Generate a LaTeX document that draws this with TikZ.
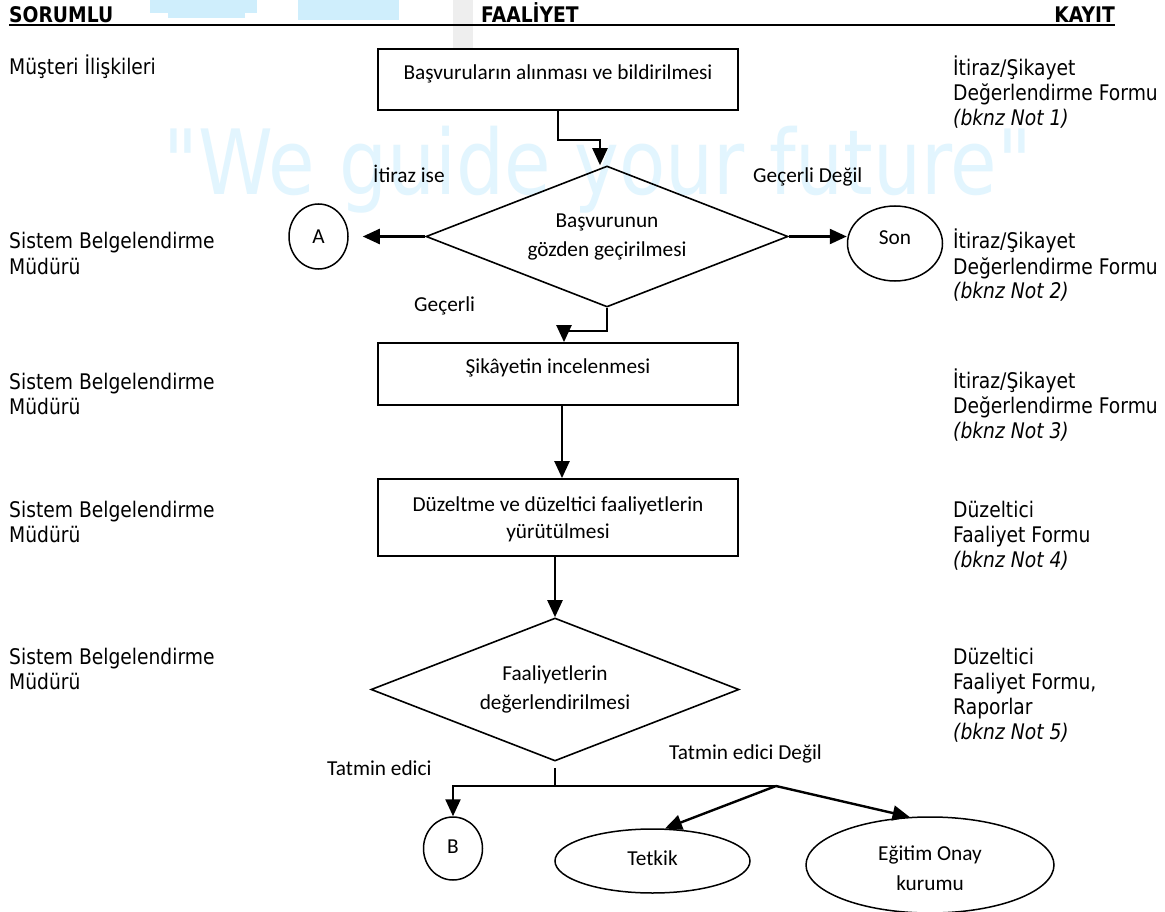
\documentclass[tikz,border=0pt]{standalone}
\usepackage{fontspec}
\usepackage{graphicx}
\setmainfont{Carlito}
\newfontfamily\tah[FakeStretch=0.87]{DejaVu Sans}
\newfontfamily\wmf{DejaVu Sans}
\usetikzlibrary{shapes.geometric,arrows.meta}
\definecolor{wmblue}{RGB}{226,245,254}
\definecolor{wmblock}{RGB}{207,238,252}
\definecolor{wmgray}{RGB}{238,238,238}
\newcommand\cblk[2]{\vtop{\baselineskip=#1\lineskiplimit=-100pt\lineskip=0pt\halign{\hfil##\hfil\cr#2\crcr}}}
\newcommand\lblk[1]{\vtop{\baselineskip=25pt\lineskiplimit=-100pt\lineskip=0pt\halign{##\hfil\cr#1\crcr}}}
\begin{document}
\begin{tikzpicture}[x=1pt,y=-1pt,
  box/.style={draw, line width=1.8pt, minimum width=360pt, inner sep=0pt},
  dmd/.style={diamond, draw, line width=1.6pt, inner sep=0pt, aspect=1},
  ell/.style={ellipse, draw, line width=1.5pt, inner sep=0pt, font=\fontsize{21.3}{26}\selectfont},
  ctext/.style={font=\fontsize{21.3}{26}\selectfont, inner sep=0pt, anchor=base},
  lab/.style={font=\fontsize{21.3}{26}\selectfont, inner sep=0pt, anchor=base west},
  side/.style={font=\tah\fontsize{21.5}{25}\selectfont, inner sep=0pt, anchor=base west},
  head/.style={font=\tah\bfseries\fontsize{21.5}{25}\selectfont, inner sep=0pt, anchor=base west},
  conn/.style={line width=2.4pt},
  arr/.style={conn, -{Triangle[length=17pt,width=15pt]}},
]
\useasboundingbox[fill=white] (0,0) rectangle (1165,912);

% watermark
\fill[wmblock] (150,0) rectangle (257,13);
\fill[wmblock] (168,13) rectangle (245,18);
\fill[wmblock] (298,0) rectangle (399,20);
\fill[wmgray] (453,0) rectangle (473,48);
\node[anchor=base west, inner sep=0pt, text=wmblue] (wm) at (163,195)
  {\resizebox{869pt}{\height}{\wmf\fontsize{90}{90}\selectfont "We guide your future"}};

% header
\node[head] (h1) at (9,23) {SORUMLU};
\node[head] (h2) at (481,23) {FAALİYET};
\node[head, anchor=base east] (h3) at (1115,23) {KAYIT};
\coordinate (rl) at (9,25);
\coordinate (rr) at (1115,25);
\draw[line width=2.5pt] (rl) -- (rr);

% left column
\node[side] (s1) at (9,75) {Müşteri İlişkileri};
\node[side] (s2) at (9,249) {\lblk{Sistem Belgelendirme\cr Müdürü}};
\node[side] (s3) at (9,389) {\lblk{Sistem Belgelendirme\cr Müdürü}};
\node[side] (s4) at (9,517) {\lblk{Sistem Belgelendirme\cr Müdürü}};
\node[side] (s5) at (9,664) {\lblk{Sistem Belgelendirme\cr Müdürü}};

% right column
\node[side] (k1) at (953,76) {\lblk{İtiraz/Şikayet\cr Değerlendirme Formu\cr \itshape (bknz Not 1)}};
\node[side] (k2) at (953,249) {\lblk{İtiraz/Şikayet\cr Değerlendirme Formu\cr \itshape (bknz Not 2)}};
\node[side] (k3) at (953,388) {\lblk{İtiraz/Şikayet\cr Değerlendirme Formu\cr \itshape (bknz Not 3)}};
\node[side] (k4) at (953,517) {\lblk{Düzeltici\cr Faaliyet Formu\cr \itshape (bknz Not 4)}};
\node[side] (k5) at (953,664) {\lblk{Düzeltici\cr Faaliyet Formu,\cr Raporlar\cr \itshape (bknz Not 5)}};

% flow shapes
\node[box, minimum height=61pt] (b1) at (558,79.5) {};
\node[ctext] (b1t) at (558,80) {Başvuruların alınması ve bildirilmesi};
\node[dmd, minimum width=362pt, minimum height=141pt] (d1) at (607,236.5) {};
\node[ctext] (d1t) at (607,228) {\cblk{29pt}{Başvurunun\cr gözden geçirilmesi}};
\node[ell, minimum width=59pt, minimum height=65pt] (A) at (318.5,236.5) {A};
\node[ell, minimum width=95pt, minimum height=75pt, text height=13.5pt, text depth=10.5pt] (son) at (895,243.5) {Son};
\node[box, minimum height=62pt] (b2) at (558,374) {};
\node[ctext] (b2t) at (558,373) {Şikâyetin incelenmesi};
\node[box, minimum height=77pt] (b3) at (558,517.5) {};
\node[ctext] (b3t) at (558,511) {\cblk{27pt}{Düzeltme ve düzeltici faaliyetlerin\cr yürütülmesi}};
\node[dmd, minimum width=368pt, minimum height=143pt] (d2) at (555,689.5) {};
\node[ctext] (d2t) at (555,680) {\cblk{29pt}{Faaliyetlerin\cr değerlendirilmesi}};
\node[ell, minimum width=59pt, minimum height=63pt, text height=13.5pt, text depth=4.5pt] (B) at (453,848.5) {B};
\node[ell, minimum width=195pt, minimum height=64pt, text height=14.7pt, text depth=6.7pt] (tk) at (652.5,861) {Tetkik};
\node[ell, minimum width=248pt, minimum height=96pt] (eg) at (930,865) {};
\node[ctext] (egt) at (930,860) {\cblk{30pt}{Eğitim Onay\cr kurumu}};

% labels
\node[lab] (l1) at (373,183) {İtiraz ise};
\node[lab] (l2) at (753,183) {Geçerli Değil};
\node[lab] (l3) at (414,311) {Geçerli};
\node[lab] (l4) at (327,775) {Tatmin edici};
\node[lab] (l5) at (669,759) {Tatmin edici Değil};

% connectors
\draw[arr] (b1.south) -- ++(0,29) -| ([xshift=-7pt]d1.north);
\draw[arr, shorten >=14pt] (d1.west) -- (A.east);
\draw[arr] (d1.east) -- (d1.east -| son.west);
\draw[arr] (d1.south) -- ++(0,23) -| ([xshift=6pt]b2.north);
\draw[arr] ([xshift=4pt]b2.south) -- ([xshift=4pt]b3.north);
\draw[arr] (b3.south -| d2.north) -- (d2.north);
\coordinate (j1) at (555,786);
\coordinate (jB) at (453,786);
\coordinate (jR) at (776,786);
\draw[conn] ([yshift=-6pt]d2.south) -- (j1);
\draw[arr] (jR) -- (jB) -- (B.north);
\draw[arr] (jR) -- (tk.69);
\draw[arr] (jR) -- (eg.113);
\end{tikzpicture}
\end{document}
